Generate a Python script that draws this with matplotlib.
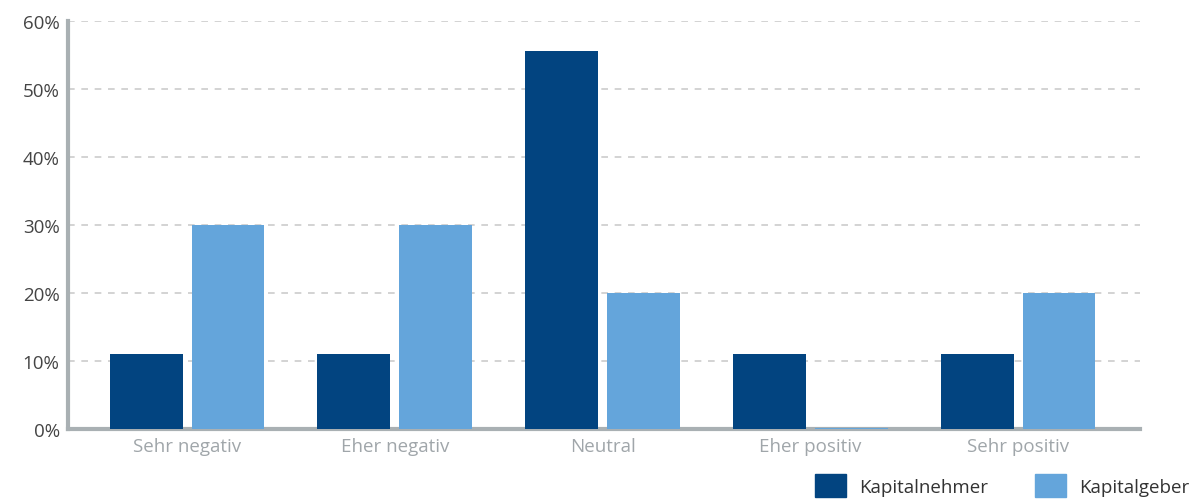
import numpy as np
import matplotlib
matplotlib.use('Agg')
from matplotlib import pyplot as plt
from matplotlib.patches import Patch

categories = ['Sehr negativ', 'Eher negativ', 'Neutral', 'Eher positiv', 'Sehr positiv']
kapitalnehmer = [11.1, 11.1, 55.6, 11.1, 11.1]
kapitalgeber = [30.0, 30.0, 20.0, 0.0, 20.0]
yticks = [0, 10, 20, 30, 40, 50, 60]

dark = '#024480'
light = '#64a5db'
axis_grey = '#a9b0b3'

plt.rcParams['font.family'] = ['Open Sans', 'DejaVu Sans']

fig = plt.figure(figsize=(11.92, 5.02), dpi=100)
ax = fig.add_axes([68 / 1192, 72 / 502, 1072 / 1192, 408 / 502])

x = np.arange(len(categories))
w = 0.351
off = 0.197
ax.bar(x - off, kapitalnehmer, w, color=dark, linewidth=0, zorder=3)
# zero-height bars get a thin edge so they stay visible on the baseline
edge = [1.5 if v == 0 else 0 for v in kapitalgeber]
ax.bar(x + off, kapitalgeber, w, color=light, edgecolor=light, linewidth=edge, zorder=3)

ax.set_xlim(-0.573, 4.587)
ax.set_ylim(0, 60)
ax.set_yticks(yticks)
ax.set_yticklabels(['%d%%' % t for t in yticks], fontsize=13.5, color='#444444')
ax.set_xticks(x)
ax.set_xticklabels(categories, fontsize=13.5, color='#a0a6aa')
ax.tick_params(length=0, pad=6)

ax.yaxis.grid(True, linestyle=(0, (4, 4)), color='#cccccc', linewidth=1.2, zorder=0)
for s in ['top', 'right']:
    ax.spines[s].set_visible(False)
for s in ['left', 'bottom']:
    ax.spines[s].set_color(axis_grey)
    ax.spines[s].set_linewidth(3)

handles = [Patch(color=dark, label='Kapitalnehmer'), Patch(color=light, label='Kapitalgeber')]
fig.legend(handles=handles, loc='lower right', bbox_to_anchor=(1.012, -0.026), ncol=2,
           frameon=False, fontsize=13.5, handlelength=1.65, handleheight=1.5,
           handletextpad=0.7, columnspacing=2.5, labelcolor='#333333')

fig.savefig('out.png', dpi=100)
